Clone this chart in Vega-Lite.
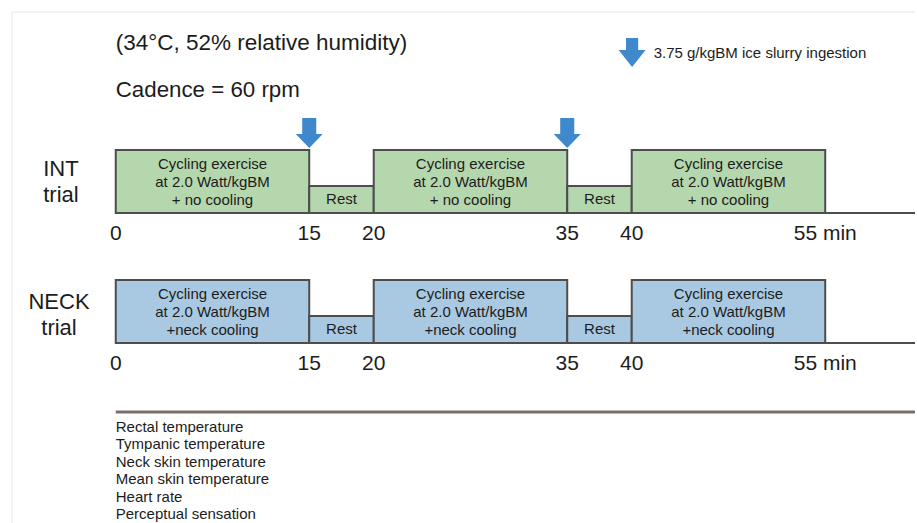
{
  "$schema": "https://vega.github.io/schema/vega-lite/v6.json",
  "width": 917,
  "height": 523,
  "autosize": {"type": "fit", "contains": "padding"},
  "padding": 0,
  "background": "white",
  "config": {
    "view": {"stroke": null},
    "font": "Liberation Sans",
    "text": {"font": "Liberation Sans", "color": "#1c1c1c"}
  },
  "data": {"values": [{"note": "annotation"}]},
  "datasets": {
    "segments": [
      {"trial": "INT", "seg": 1, "phase": "exercise", "start": 0, "end": 15, "level": 1, "label": "Cycling exercise|at 2.0 Watt/kgBM|+ no cooling"},
      {"trial": "INT", "seg": 2, "phase": "rest", "start": 15, "end": 20, "level": 0.43, "label": "Rest"},
      {"trial": "INT", "seg": 3, "phase": "exercise", "start": 20, "end": 35, "level": 1, "label": "Cycling exercise|at 2.0 Watt/kgBM|+ no cooling"},
      {"trial": "INT", "seg": 4, "phase": "rest", "start": 35, "end": 40, "level": 0.43, "label": "Rest"},
      {"trial": "INT", "seg": 5, "phase": "exercise", "start": 40, "end": 55, "level": 1, "label": "Cycling exercise|at 2.0 Watt/kgBM|+ no cooling"},
      {"trial": "NECK", "seg": 1, "phase": "exercise", "start": 0, "end": 15, "level": 1, "label": "Cycling exercise|at 2.0 Watt/kgBM|+neck cooling"},
      {"trial": "NECK", "seg": 2, "phase": "rest", "start": 15, "end": 20, "level": 0.43, "label": "Rest"},
      {"trial": "NECK", "seg": 3, "phase": "exercise", "start": 20, "end": 35, "level": 1, "label": "Cycling exercise|at 2.0 Watt/kgBM|+neck cooling"},
      {"trial": "NECK", "seg": 4, "phase": "rest", "start": 35, "end": 40, "level": 0.43, "label": "Rest"},
      {"trial": "NECK", "seg": 5, "phase": "exercise", "start": 40, "end": 55, "level": 1, "label": "Cycling exercise|at 2.0 Watt/kgBM|+neck cooling"}
    ],
    "ticks": [
      {"t": 0, "label": "0"},
      {"t": 15, "label": "15"},
      {"t": 20, "label": "20"},
      {"t": 35, "label": "35"},
      {"t": 40, "label": "40"},
      {"t": 55, "label": "55 min"}
    ],
    "ingestion": [
      {"t": 15, "dose": "3.75 g/kgBM ice slurry"},
      {"t": 35, "dose": "3.75 g/kgBM ice slurry"}
    ],
    "measures": [
      {"order": 1, "name": "Rectal temperature"},
      {"order": 2, "name": "Tympanic temperature"},
      {"order": 3, "name": "Neck skin temperature"},
      {"order": 4, "name": "Mean skin temperature"},
      {"order": 5, "name": "Heart rate"},
      {"order": 6, "name": "Perceptual sensation"}
    ]
  },
  "resolve": {"scale": {"y": "independent"}},
  "layer": [
    {
      "mark": {"type": "rule", "color": "#e4e8ed", "strokeWidth": 1},
      "encoding": {
        "x": {"datum": -8.05, "type": "quantitative", "scale": {"type": "linear", "domain": [-8.973, 61.96], "nice": false, "zero": false}, "axis": null},
        "x2": {"datum": 61.96},
        "y": {"datum": 12, "type": "quantitative", "scale": {"domain": [0, 523], "range": [0, 523], "nice": false, "zero": false}, "axis": null}
      }
    },
    {
      "mark": {"type": "rule", "color": "#e4e8ed", "strokeWidth": 1},
      "encoding": {
        "x": {"datum": -8.05, "type": "quantitative", "scale": {"type": "linear", "domain": [-8.973, 61.96], "nice": false, "zero": false}, "axis": null},
        "y": {"datum": 12, "type": "quantitative", "scale": {"domain": [0, 523], "range": [0, 523], "nice": false, "zero": false}, "axis": null},
        "y2": {"datum": 523}
      }
    },
    {
      "mark": {"type": "text", "align": "left", "baseline": "alphabetic", "fontSize": 22.5},
      "encoding": {
        "x": {"datum": 0, "type": "quantitative", "scale": {"type": "linear", "domain": [-8.973, 61.96], "nice": false, "zero": false}, "axis": null},
        "y": {"datum": 50, "type": "quantitative", "scale": {"domain": [0, 523], "range": [0, 523], "nice": false, "zero": false}, "axis": null},
        "text": {"value": "(34°C, 52% relative humidity)"}
      }
    },
    {
      "mark": {"type": "text", "align": "left", "baseline": "alphabetic", "fontSize": 22.3},
      "encoding": {
        "x": {"datum": 0, "type": "quantitative", "scale": {"type": "linear", "domain": [-8.973, 61.96], "nice": false, "zero": false}, "axis": null},
        "y": {"datum": 97, "type": "quantitative", "scale": {"domain": [0, 523], "range": [0, 523], "nice": false, "zero": false}, "axis": null},
        "text": {"value": "Cadence = 60 rpm"}
      }
    },
    {
      "mark": {"type": "point", "filled": true, "opacity": 1, "size": 729, "color": "#3f88cc", "shape": "M -0.45 -1.07 L 0.45 -1.07 L 0.45 -0.19 L 1 -0.19 L 0 1.07 L -1 -0.19 L -0.45 -0.19 Z"},
      "encoding": {
        "x": {"datum": 40.03, "type": "quantitative", "scale": {"type": "linear", "domain": [-8.973, 61.96], "nice": false, "zero": false}, "axis": null},
        "y": {"datum": 52.5, "type": "quantitative", "scale": {"domain": [0, 523], "range": [0, 523], "nice": false, "zero": false}, "axis": null}
      }
    },
    {
      "mark": {"type": "text", "align": "left", "baseline": "alphabetic", "fontSize": 15},
      "encoding": {
        "x": {"datum": 41.7, "type": "quantitative", "scale": {"type": "linear", "domain": [-8.973, 61.96], "nice": false, "zero": false}, "axis": null},
        "y": {"datum": 57.5, "type": "quantitative", "scale": {"domain": [0, 523], "range": [0, 523], "nice": false, "zero": false}, "axis": null},
        "text": {"value": "3.75 g/kgBM ice slurry ingestion"}
      }
    },
    {
      "data": {"name": "segments"},
      "transform": [{"filter": "datum.trial === 'INT'"}],
      "mark": {"type": "rect", "fill": "#b5d7ae", "stroke": "#4d4d4d", "strokeWidth": 2},
      "encoding": {
        "x": {"field": "start", "type": "quantitative", "scale": {"type": "linear", "domain": [-8.973, 61.96], "nice": false, "zero": false}, "axis": null},
        "x2": {"field": "end"},
        "y": {"field": "level", "type": "quantitative", "scale": {"domain": [0, 1], "range": [213, 150], "nice": false, "zero": false}, "axis": null},
        "y2": {"datum": 0}
      }
    },
    {
      "mark": {"type": "rule", "color": "#4d4d4d", "strokeWidth": 2},
      "encoding": {
        "x": {"datum": 55, "type": "quantitative", "scale": {"type": "linear", "domain": [-8.973, 61.96], "nice": false, "zero": false}, "axis": null},
        "x2": {"datum": 61.96},
        "y": {"datum": 213, "type": "quantitative", "scale": {"domain": [0, 523], "range": [0, 523], "nice": false, "zero": false}, "axis": null}
      }
    },
    {
      "data": {"name": "segments"},
      "transform": [
        {"filter": "datum.trial === 'INT' && datum.phase === 'exercise'"},
        {"fold": ["start", "end"], "as": ["edge", "time"]},
        {"aggregate": [{"op": "mean", "field": "time", "as": "mid"}], "groupby": ["trial", "seg", "label"]}
      ],
      "mark": {"type": "text", "align": "center", "baseline": "middle", "fontSize": 15, "lineHeight": 18, "lineBreak": "|", "dy": -18},
      "encoding": {
        "x": {"field": "mid", "type": "quantitative", "scale": {"type": "linear", "domain": [-8.973, 61.96], "nice": false, "zero": false}, "axis": null},
        "y": {"datum": 0.5, "type": "quantitative", "scale": {"domain": [0, 1], "range": [213, 150], "nice": false, "zero": false}, "axis": null},
        "text": {"field": "label"}
      }
    },
    {
      "data": {"name": "segments"},
      "transform": [
        {"filter": "datum.trial === 'INT' && datum.phase === 'rest'"},
        {"fold": ["start", "end"], "as": ["edge", "time"]},
        {"aggregate": [{"op": "mean", "field": "time", "as": "mid"}], "groupby": ["trial", "seg", "label"]}
      ],
      "mark": {"type": "text", "align": "center", "baseline": "middle", "fontSize": 15},
      "encoding": {
        "x": {"field": "mid", "type": "quantitative", "scale": {"type": "linear", "domain": [-8.973, 61.96], "nice": false, "zero": false}, "axis": null},
        "y": {"datum": 0.215, "type": "quantitative", "scale": {"domain": [0, 1], "range": [213, 150], "nice": false, "zero": false}, "axis": null},
        "text": {"field": "label"}
      }
    },
    {
      "data": {"name": "ticks"},
      "mark": {"type": "text", "align": "center", "baseline": "alphabetic", "fontSize": 21},
      "encoding": {
        "x": {"field": "t", "type": "quantitative", "scale": {"type": "linear", "domain": [-8.973, 61.96], "nice": false, "zero": false}, "axis": null},
        "y": {"datum": 240, "type": "quantitative", "scale": {"domain": [0, 523], "range": [0, 523], "nice": false, "zero": false}, "axis": null},
        "text": {"field": "label"}
      }
    },
    {
      "data": {"name": "ingestion"},
      "mark": {"type": "point", "filled": true, "opacity": 1, "size": 729, "color": "#3f88cc", "shape": "M -0.52 -1.11 L 0.52 -1.11 L 0.52 0.07 L 1 0.07 L 0 1.11 L -1 0.07 L -0.52 0.07 Z"},
      "encoding": {
        "x": {"field": "t", "type": "quantitative", "scale": {"type": "linear", "domain": [-8.973, 61.96], "nice": false, "zero": false}, "axis": null},
        "y": {"datum": 133, "type": "quantitative", "scale": {"domain": [0, 523], "range": [0, 523], "nice": false, "zero": false}, "axis": null}
      }
    },
    {
      "mark": {"type": "text", "align": "center", "baseline": "alphabetic", "fontSize": 22, "lineHeight": 26, "text": ["INT", "trial"]},
      "encoding": {
        "x": {"datum": -4.25, "type": "quantitative", "scale": {"type": "linear", "domain": [-8.973, 61.96], "nice": false, "zero": false}, "axis": null},
        "y": {"datum": 176, "type": "quantitative", "scale": {"domain": [0, 523], "range": [0, 523], "nice": false, "zero": false}, "axis": null}
      }
    },
    {
      "data": {"name": "segments"},
      "transform": [{"filter": "datum.trial === 'NECK'"}],
      "mark": {"type": "rect", "fill": "#a9c9e2", "stroke": "#4d4d4d", "strokeWidth": 2},
      "encoding": {
        "x": {"field": "start", "type": "quantitative", "scale": {"type": "linear", "domain": [-8.973, 61.96], "nice": false, "zero": false}, "axis": null},
        "x2": {"field": "end"},
        "y": {"field": "level", "type": "quantitative", "scale": {"domain": [0, 1], "range": [343, 280], "nice": false, "zero": false}, "axis": null},
        "y2": {"datum": 0}
      }
    },
    {
      "mark": {"type": "rule", "color": "#4d4d4d", "strokeWidth": 2},
      "encoding": {
        "x": {"datum": 55, "type": "quantitative", "scale": {"type": "linear", "domain": [-8.973, 61.96], "nice": false, "zero": false}, "axis": null},
        "x2": {"datum": 61.96},
        "y": {"datum": 343, "type": "quantitative", "scale": {"domain": [0, 523], "range": [0, 523], "nice": false, "zero": false}, "axis": null}
      }
    },
    {
      "data": {"name": "segments"},
      "transform": [
        {"filter": "datum.trial === 'NECK' && datum.phase === 'exercise'"},
        {"fold": ["start", "end"], "as": ["edge", "time"]},
        {"aggregate": [{"op": "mean", "field": "time", "as": "mid"}], "groupby": ["trial", "seg", "label"]}
      ],
      "mark": {"type": "text", "align": "center", "baseline": "middle", "fontSize": 15, "lineHeight": 18, "lineBreak": "|", "dy": -18},
      "encoding": {
        "x": {"field": "mid", "type": "quantitative", "scale": {"type": "linear", "domain": [-8.973, 61.96], "nice": false, "zero": false}, "axis": null},
        "y": {"datum": 0.5, "type": "quantitative", "scale": {"domain": [0, 1], "range": [343, 280], "nice": false, "zero": false}, "axis": null},
        "text": {"field": "label"}
      }
    },
    {
      "data": {"name": "segments"},
      "transform": [
        {"filter": "datum.trial === 'NECK' && datum.phase === 'rest'"},
        {"fold": ["start", "end"], "as": ["edge", "time"]},
        {"aggregate": [{"op": "mean", "field": "time", "as": "mid"}], "groupby": ["trial", "seg", "label"]}
      ],
      "mark": {"type": "text", "align": "center", "baseline": "middle", "fontSize": 15},
      "encoding": {
        "x": {"field": "mid", "type": "quantitative", "scale": {"type": "linear", "domain": [-8.973, 61.96], "nice": false, "zero": false}, "axis": null},
        "y": {"datum": 0.215, "type": "quantitative", "scale": {"domain": [0, 1], "range": [343, 280], "nice": false, "zero": false}, "axis": null},
        "text": {"field": "label"}
      }
    },
    {
      "data": {"name": "ticks"},
      "mark": {"type": "text", "align": "center", "baseline": "alphabetic", "fontSize": 21},
      "encoding": {
        "x": {"field": "t", "type": "quantitative", "scale": {"type": "linear", "domain": [-8.973, 61.96], "nice": false, "zero": false}, "axis": null},
        "y": {"datum": 370, "type": "quantitative", "scale": {"domain": [0, 523], "range": [0, 523], "nice": false, "zero": false}, "axis": null},
        "text": {"field": "label"}
      }
    },
    {
      "mark": {"type": "text", "align": "center", "baseline": "alphabetic", "fontSize": 22, "lineHeight": 26, "text": ["NECK", "trial"]},
      "encoding": {
        "x": {"datum": -4.4, "type": "quantitative", "scale": {"type": "linear", "domain": [-8.973, 61.96], "nice": false, "zero": false}, "axis": null},
        "y": {"datum": 309, "type": "quantitative", "scale": {"domain": [0, 523], "range": [0, 523], "nice": false, "zero": false}, "axis": null}
      }
    },
    {
      "mark": {"type": "rule", "color": "#77706c", "strokeWidth": 3},
      "encoding": {
        "x": {"datum": 0, "type": "quantitative", "scale": {"type": "linear", "domain": [-8.973, 61.96], "nice": false, "zero": false}, "axis": null},
        "x2": {"datum": 61.96},
        "y": {"datum": 412, "type": "quantitative", "scale": {"domain": [0, 523], "range": [0, 523], "nice": false, "zero": false}, "axis": null}
      }
    },
    {
      "data": {"name": "measures"},
      "mark": {"type": "text", "align": "left", "baseline": "alphabetic", "fontSize": 15},
      "encoding": {
        "x": {"datum": 0, "type": "quantitative", "scale": {"type": "linear", "domain": [-8.973, 61.96], "nice": false, "zero": false}, "axis": null},
        "y": {"field": "name", "type": "ordinal", "sort": {"field": "order"}, "scale": {"type": "point", "range": [432, 519], "padding": 0}, "axis": null},
        "text": {"field": "name"}
      }
    }
  ]
}
